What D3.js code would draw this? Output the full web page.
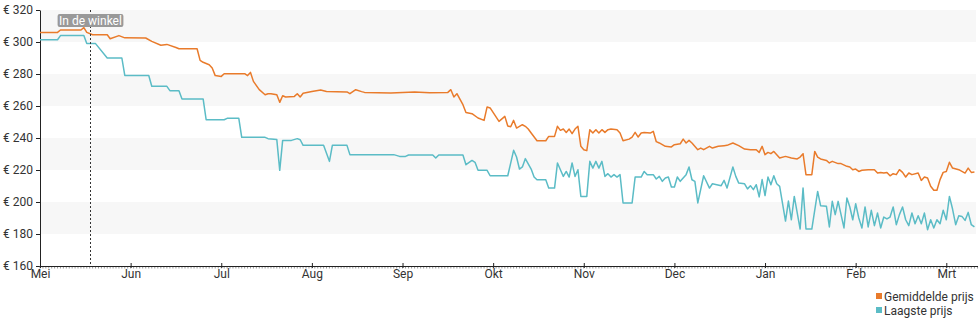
<!DOCTYPE html>
<html><head><meta charset="utf-8">
<script src="https://cdn.jsdelivr.net/npm/d3@7"></script>
<style>
html,body{margin:0;padding:0;background:#fff;}
svg{display:block;font-family:Roboto,"Noto Sans",sans-serif;}
</style></head><body>
<svg id="chart" width="980" height="325"></svg>
<script>
const monthStarts = ["2023-05-01","2023-06-01","2023-07-01","2023-08-01","2023-09-01","2023-10-01","2023-11-01","2023-12-01","2024-01-01","2024-02-01","2024-03-01"];
const monthLabels = ["Mei","Jun","Jul","Aug","Sep","Okt","Nov","Dec","Jan","Feb","Mrt"];
const yTicks = [160,180,200,220,240,260,280,300,320];
const seriesNames = ["Gemiddelde prijs","Laagste prijs"];
const storeDate = "2023-05-18";
const storeLabel = "In de winkel";

const avgPrice = [
["2023-05-01",306],["2023-05-07",306],["2023-05-08",307.5],["2023-05-15",307.5],["2023-05-16",309],["2023-05-17",306],["2023-05-19",304.5],["2023-05-24",304.5],["2023-05-25",302],["2023-05-28",304],["2023-05-30",302.6],
["2023-06-06",302.5],["2023-06-08",300.4],["2023-06-11",298],["2023-06-13",298.5],["2023-06-16",296.6],["2023-06-17",295.8],["2023-06-23",295.8],["2023-06-24",288.5],["2023-06-25",287.3],["2023-06-27",285.8],["2023-06-28",283.7],["2023-06-29",279],
["2023-07-01",278.5],["2023-07-02",280.2],["2023-07-09",280.2],["2023-07-10",279],["2023-07-11",281],["2023-07-12",275.4],["2023-07-14",270.2],["2023-07-16",267],["2023-07-17",267.7],["2023-07-18",267.7],["2023-07-20",267],["2023-07-21",262.3],["2023-07-22",266.4],["2023-07-23",265.6],["2023-07-26",266],["2023-07-27",267.7],["2023-07-28",265.6],["2023-07-29",268],
["2023-08-01",269],["2023-08-04",270],["2023-08-06",269.1],["2023-08-13",268.8],["2023-08-14",267.7],["2023-08-16",270.2],["2023-08-18",269],["2023-08-19",268.5],["2023-08-28",268.2],
["2023-09-05",268.8],["2023-09-10",268.3],["2023-09-16",268.5],["2023-09-17",270.2],["2023-09-18",265.6],["2023-09-19",267.7],["2023-09-21",260.8],["2023-09-22",256],["2023-09-24",255.2],["2023-09-26",252.5],["2023-09-28",251],["2023-09-29",259.4],["2023-09-30",258.8],
["2023-10-03",250.4],["2023-10-05",253.5],["2023-10-06",247.5],["2023-10-07",247],["2023-10-08",251],["2023-10-09",246.2],["2023-10-11",248.3],["2023-10-12",247.3],["2023-10-13",245.6],["2023-10-14",243.1],["2023-10-16",238.3],["2023-10-19",238.3],["2023-10-20",241],["2023-10-22",241],["2023-10-23",247.3],["2023-10-24",244.8],["2023-10-25",245.6],["2023-10-26",243.5],["2023-10-27",245.6],["2023-10-28",242.7],["2023-10-29",245.6],["2023-10-30",247.3],["2023-10-31",234.8],
["2023-11-01",232.7],["2023-11-02",232.1],["2023-11-03",245.2],["2023-11-04",243.1],["2023-11-05",245.2],["2023-11-06",243.1],["2023-11-07",245.2],["2023-11-08",243.5],["2023-11-09",245.2],["2023-11-10",245.6],["2023-11-12",245.2],["2023-11-13",243.1],["2023-11-14",238.3],["2023-11-16",239.3],["2023-11-17",240.6],["2023-11-18",243.5],["2023-11-19",240.6],["2023-11-20",243.1],["2023-11-21",243.5],["2023-11-23",243.1],["2023-11-24",244.2],["2023-11-25",237.7],["2023-11-26",236.9],["2023-11-28",234.8],["2023-11-30",234.4],
["2023-12-01",235.8],["2023-12-03",236.4],["2023-12-04",239.3],["2023-12-05",236.9],["2023-12-06",238.5],["2023-12-07",236.9],["2023-12-09",232.7],["2023-12-10",233.7],["2023-12-11",232.7],["2023-12-13",234.8],["2023-12-14",233.7],["2023-12-16",234.8],["2023-12-18",235.2],["2023-12-19",235.4],["2023-12-21",236.9],["2023-12-23",235.2],["2023-12-25",233.1],["2023-12-27",232.7],["2023-12-29",232.7],["2023-12-30",231],["2023-12-31",234.8],
["2024-01-01",229.6],["2024-01-02",231],["2024-01-03",230.2],["2024-01-04",231.6],["2024-01-05",229.6],["2024-01-06",227.5],["2024-01-08",228.5],["2024-01-10",227.5],["2024-01-12",226.9],["2024-01-13",228.1],["2024-01-14",230.2],["2024-01-15",217.1],["2024-01-17",217.1],["2024-01-18",231.6],["2024-01-19",228.1],["2024-01-20",226.9],["2024-01-22",226],["2024-01-23",224.4],["2024-01-24",225.4],["2024-01-26",224],["2024-01-27",224],["2024-01-29",222.3],["2024-01-30",221.9],["2024-01-31",220.2],
["2024-02-01",220.6],["2024-02-02",219.1],["2024-02-03",219.8],["2024-02-05",220.2],["2024-02-07",220.2],["2024-02-08",218.1],["2024-02-09",218.5],["2024-02-10",218.1],["2024-02-11",218.5],["2024-02-12",216.4],["2024-02-13",217.7],["2024-02-14",217.1],["2024-02-15",220.2],["2024-02-16",218.5],["2024-02-17",215.6],["2024-02-18",218.1],["2024-02-19",217.1],["2024-02-21",218.1],["2024-02-22",213.5],["2024-02-23",215.6],["2024-02-24",215],["2024-02-25",209.8],["2024-02-26",207.3],["2024-02-27",207.3],["2024-02-28",214],["2024-02-29",218.5],
["2024-03-01",219.1],["2024-03-02",224.8],["2024-03-03",221.2],["2024-03-05",220.2],["2024-03-07",218.1],["2024-03-08",221.2],["2024-03-09",218.5],["2024-03-10",218.8]
];

const lowPrice = [
["2023-05-01",301.4],["2023-05-07",301.4],["2023-05-08",304],["2023-05-16",304],["2023-05-17",299],["2023-05-20",299],["2023-05-24",290],["2023-05-29",290],["2023-05-30",279.1],
["2023-06-07",279.1],["2023-06-08",272.3],["2023-06-13",272.3],["2023-06-14",269.6],["2023-06-17",269.6],["2023-06-18",264.4],["2023-06-25",264.4],["2023-06-26",251.4],
["2023-07-02",251.4],["2023-07-03",252.3],["2023-07-07",252.3],["2023-07-08",240.4],["2023-07-16",240.4],["2023-07-17",239.6],["2023-07-20",239],["2023-07-21",219.8],["2023-07-22",238.5],["2023-07-25",238.5],["2023-07-27",239.6],["2023-07-28",238.9],["2023-07-29",235.4],
["2023-08-05",235.4],["2023-08-07",225.4],["2023-08-08",235.4],["2023-08-13",235.4],["2023-08-14",229.6],["2023-08-29",229.6],["2023-08-31",228.5],
["2023-09-02",228.5],["2023-09-03",229.4],["2023-09-11",229.4],["2023-09-12",227.5],["2023-09-13",229.4],["2023-09-21",229.4],["2023-09-22",223.3],["2023-09-24",226],["2023-09-25",224.8],["2023-09-26",219.8],["2023-09-29",219.8],["2023-09-30",216.4],
["2023-10-06",216.4],["2023-10-08",232.3],["2023-10-09",228.1],["2023-10-10",220.6],["2023-10-11",221.9],["2023-10-12",227.1],["2023-10-14",220.6],["2023-10-15",215.6],["2023-10-16",213.9],["2023-10-19",213.9],["2023-10-20",208.7],["2023-10-22",208.7],["2023-10-23",224.4],["2023-10-24",220.2],["2023-10-25",216],["2023-10-26",219.1],["2023-10-27",215.6],["2023-10-28",224.4],["2023-10-29",216],["2023-10-30",220.2],["2023-10-31",203.5],
["2023-11-02",203.5],["2023-11-03",225.4],["2023-11-04",221.2],["2023-11-05",225.4],["2023-11-06",221.2],["2023-11-07",225.4],["2023-11-08",216],["2023-11-09",217.7],["2023-11-10",215.6],["2023-11-11",217.1],["2023-11-12",215.6],["2023-11-13",217.1],["2023-11-14",199.4],["2023-11-17",199.4],["2023-11-18",215.6],["2023-11-20",215.6],["2023-11-21",219.1],["2023-11-22",217.1],["2023-11-24",217.1],["2023-11-25",214.4],["2023-11-26",216],["2023-11-27",212.9],["2023-11-28",215],["2023-11-29",215.6],["2023-11-30",209.4],
["2023-12-01",209.4],["2023-12-02",215.6],["2023-12-03",212.9],["2023-12-05",217.1],["2023-12-06",221.9],["2023-12-07",213.9],["2023-12-08",212.9],["2023-12-09",199.4],["2023-12-11",216.4],["2023-12-13",208.7],["2023-12-14",211.4],["2023-12-17",210.2],["2023-12-18",213.5],["2023-12-19",208.7],["2023-12-21",221.9],["2023-12-22",216],["2023-12-23",211.8],["2023-12-25",211.4],["2023-12-26",208.2],["2023-12-27",210.2],["2023-12-28",207.7],["2023-12-29",210.8],["2023-12-30",203.2],["2023-12-31",214],
["2024-01-01",204],["2024-01-02",215.6],["2024-01-03",210.8],["2024-01-04",216.4],["2024-01-05",211.4],["2024-01-06",209.8],["2024-01-08",188.1],["2024-01-09",200.6],["2024-01-10",188.9],["2024-01-11",203.5],["2024-01-13",183.1],["2024-01-14",208.7],["2024-01-15",183.1],["2024-01-17",183.1],["2024-01-19",206.6],["2024-01-20",197.7],["2024-01-22",197.3],["2024-01-23",184.4],["2024-01-24",200.4],["2024-01-25",192.1],["2024-01-26",200.4],["2024-01-28",183.8],["2024-01-29",202.5],["2024-01-30",196.9],["2024-01-31",188.9],
["2024-02-01",198.9],["2024-02-02",190],["2024-02-03",183.8],["2024-02-04",196.9],["2024-02-05",184.4],["2024-02-06",194.8],["2024-02-07",185.2],["2024-02-08",193.1],["2024-02-09",183.8],["2024-02-10",190.6],["2024-02-11",189.4],["2024-02-12",190.6],["2024-02-13",196.9],["2024-02-14",185.8],["2024-02-15",192.1],["2024-02-16",196.9],["2024-02-17",188.9],["2024-02-18",185.2],["2024-02-19",193.1],["2024-02-20",186.4],["2024-02-21",191.4],["2024-02-22",186.4],["2024-02-23",193.1],["2024-02-24",182.7],["2024-02-25",188.9],["2024-02-26",183.8],["2024-02-27",188.9],["2024-02-28",186.4],["2024-02-29",194.8],
["2024-03-01",188.9],["2024-03-02",203.5],["2024-03-03",195.6],["2024-03-04",185.8],["2024-03-05",191.4],["2024-03-06",191],["2024-03-07",188.5],["2024-03-08",193.5],["2024-03-09",185.8],["2024-03-10",184.4]
];

(function () {
const colors = ["#e97b2b", "#5bbcc6"];
const parse = d3.timeParse("%Y-%m-%d");
const svg = d3.select("#chart");

const mLeft = 40, mRight = 976, mTop = 10, mBottom = 266;
const mDates = monthStarts.map(parse);
const step = (946.3 - mLeft) / (mDates.length - 1);
const x = d3.scaleTime().domain(mDates).range(mDates.map((d, i) => mLeft + i * step));
const y = d3.scaleLinear().domain([yTicks[0], yTicks[yTicks.length - 1]]).range([mBottom, mTop]);

// alternating bands
const bands = [];
for (let i = 1; i < yTicks.length - 1; i += 2) bands.push([yTicks[i], yTicks[i + 1]]);
svg.append("g").selectAll("rect").data(bands).join("rect")
  .attr("x", mLeft).attr("width", mRight - mLeft)
  .attr("y", d => y(d[1])).attr("height", d => y(d[0]) - y(d[1]))
  .attr("fill", "#f7f7f7");

// y axis
const yAxis = svg.append("g").attr("transform", `translate(${mLeft},0)`)
  .call(d3.axisLeft(y).tickValues(yTicks).tickFormat(d => "€ " + d).tickSize(4).tickSizeOuter(0).tickPadding(3));
yAxis.select(".domain").attr("stroke", "#222");
yAxis.selectAll(".tick line").attr("stroke", "#222");
yAxis.selectAll("text").attr("fill", "#333").style("font-size", "12px").style("font-family", "Roboto");

// minor daily ticks
const endDate = parse("2024-03-12");
svg.append("g").selectAll("line").data(d3.timeDay.range(mDates[0], endDate)).join("line")
  .attr("x1", d => x(d)).attr("x2", d => x(d))
  .attr("y1", mBottom + 0.5).attr("y2", mBottom + 2.5)
  .attr("stroke", "#999").attr("stroke-width", 1);

// x axis
const xAxis = svg.append("g").attr("transform", `translate(0,${mBottom})`)
  .call(d3.axisBottom(x).tickValues(mDates).tickFormat((d, i) => monthLabels[i]).tickSize(2).tickSizeOuter(0).tickPadding(2));
xAxis.select(".domain").attr("d", `M${mLeft},0.5H${mRight + 2}`).attr("stroke", "#222");
xAxis.selectAll(".tick line").attr("y1", -3).attr("y2", 2).attr("stroke", "#222");
xAxis.selectAll("text").attr("fill", "#333").style("font-size", "12px").style("font-family", "Roboto").attr("y", 3).attr("dy", "0.71em");

// lines
const line = d3.line().x(d => x(parse(d[0]))).y(d => y(d[1]));
[avgPrice, lowPrice].forEach((s, i) => {
  svg.append("path").datum(s).attr("d", line)
    .attr("fill", "none").attr("stroke", colors[i]).attr("stroke-width", 1.5)
    .attr("stroke-linejoin", "round");
});

// store marker
const sx = Math.round(x(parse(storeDate))) + 0.5;
svg.append("line").attr("x1", sx).attr("x2", sx).attr("y1", mTop).attr("y2", mBottom)
  .attr("stroke", "#333").attr("stroke-width", 1).attr("stroke-dasharray", "2,2");
const lbl = svg.append("g");
const lt = lbl.append("text").attr("x", sx).attr("y", 24.5).attr("text-anchor", "middle")
  .attr("fill", "#fff").style("font-size", "12px").style("font-family", "Roboto").text(storeLabel);
const bb = lt.node().getBBox();
lbl.insert("rect", "text").attr("x", bb.x - 1.5).attr("y", 14).attr("width", bb.width + 3).attr("height", 13)
  .attr("rx", 2).attr("fill", "#999");

// legend
const lg = svg.append("g");
seriesNames.forEach((n, i) => {
  lg.append("rect").attr("x", 876).attr("y", 293 + i * 14).attr("width", 6).attr("height", 6).attr("fill", colors[i]);
  lg.append("text").attr("x", 884).attr("y", 300.5 + i * 14).attr("fill", "#333")
    .style("font-size", "12px").style("font-family", "Roboto").text(n);
});
})();
</script>
</body></html>
